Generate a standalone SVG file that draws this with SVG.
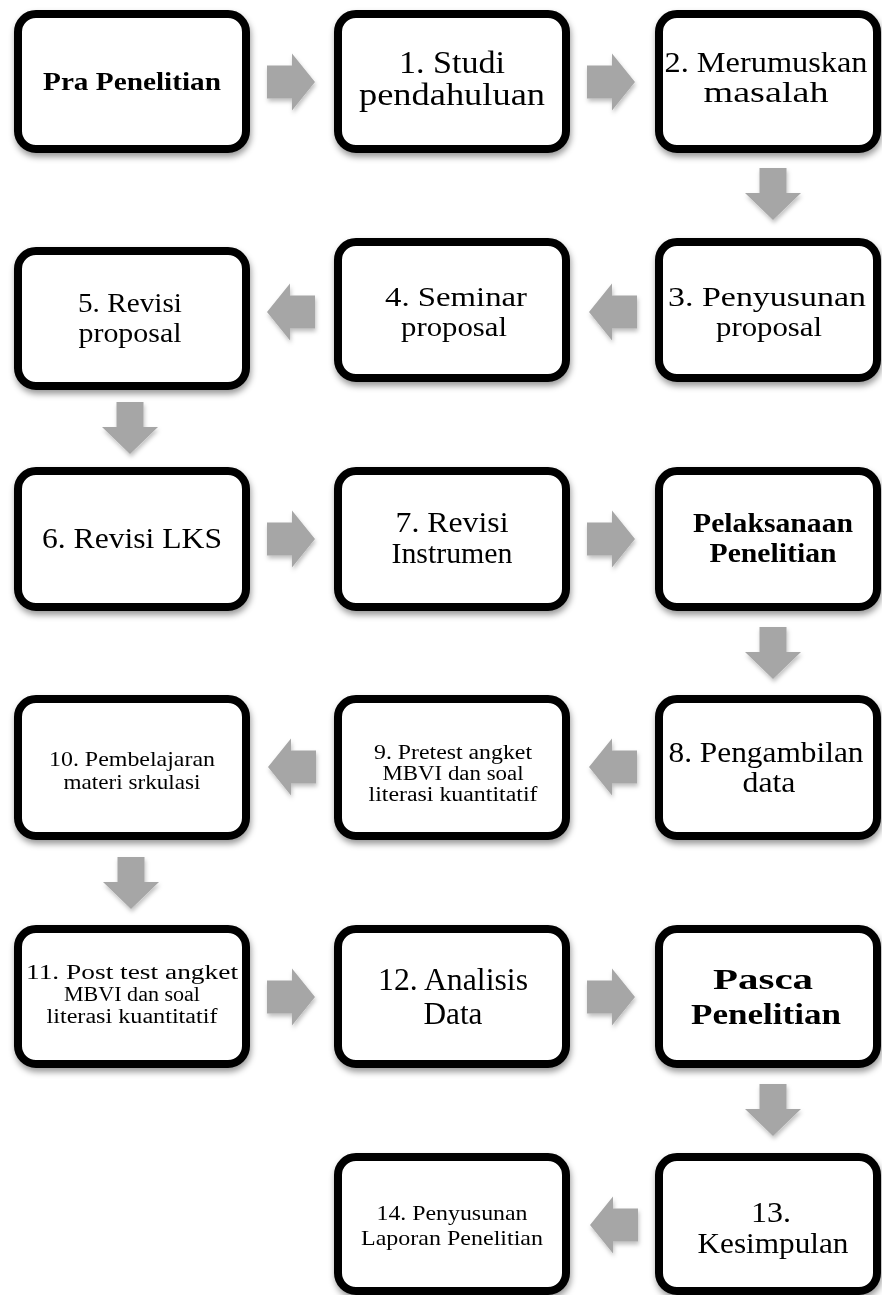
<svg xmlns="http://www.w3.org/2000/svg" xmlns:xlink="http://www.w3.org/1999/xlink" width="882" height="1295" viewBox="0 0 882 1295">
<style>
.box{fill:#fff;stroke:#000;stroke-width:8}
.t{font-family:"Liberation Serif","Times New Roman",serif;fill:#000;text-anchor:middle}
.b{font-weight:bold}
.arrow{fill:#a6a6a6}
</style>
<defs>
<filter id="sh" x="-10%" y="-10%" width="125%" height="130%">
<feDropShadow dx="1" dy="4" stdDeviation="3" flood-color="#000" flood-opacity="0.4"/>
</filter>
<filter id="ash" x="-20%" y="-20%" width="150%" height="150%">
<feDropShadow dx="1" dy="3" stdDeviation="2" flood-color="#000" flood-opacity="0.25"/>
</filter>
<path id="ar" d="M0,-16.5 H25 V-28.5 L48,0 L25,28.5 V16.5 H0 Z"/>
<path id="al" d="M0,-16.5 H-25 V-28.5 L-48,0 L-25,28.5 V16.5 H0 Z"/>
<path id="ad" d="M-13.5,0 H13.5 V25 H28 L0,52 L-28,25 H-13.5 Z"/>
</defs>
<rect width="882" height="1295" fill="#fff"/>

<g id="connectors" class="arrow" filter="url(#ash)">
<use xlink:href="#ar" href="#ar" x="267" y="82"/>
<use xlink:href="#ar" href="#ar" x="587" y="82"/>
<use xlink:href="#ad" href="#ad" x="773" y="168"/>
<use xlink:href="#al" href="#al" x="637" y="312"/>
<use xlink:href="#al" href="#al" x="315" y="312"/>
<use xlink:href="#ad" href="#ad" x="130" y="402"/>
<use xlink:href="#ar" href="#ar" x="267" y="539"/>
<use xlink:href="#ar" href="#ar" x="587" y="539"/>
<use xlink:href="#ad" href="#ad" x="773" y="627"/>
<use xlink:href="#al" href="#al" x="637" y="767"/>
<use xlink:href="#al" href="#al" x="316" y="767"/>
<use xlink:href="#ad" href="#ad" x="131" y="857"/>
<use xlink:href="#ar" href="#ar" x="267" y="997"/>
<use xlink:href="#ar" href="#ar" x="587" y="997"/>
<use xlink:href="#ad" href="#ad" x="773" y="1084"/>
<use xlink:href="#al" href="#al" x="638" y="1225"/>
</g>

<g id="n-pra">
<rect class="box" filter="url(#sh)" x="18" y="14" width="228" height="135" rx="18"/>
<text class="t b" x="132" y="90" font-size="26" textLength="178" lengthAdjust="spacingAndGlyphs">Pra Penelitian</text>
</g>
<g id="n-1">
<rect class="box" filter="url(#sh)" x="338" y="14" width="228" height="135" rx="18"/>
<text class="t" x="452" y="73" font-size="30.5" textLength="106" lengthAdjust="spacingAndGlyphs">1. Studi</text>
<text class="t" x="452" y="105" font-size="30.5" textLength="186" lengthAdjust="spacingAndGlyphs">pendahuluan</text>
</g>
<g id="n-2">
<rect class="box" filter="url(#sh)" x="659" y="14" width="218" height="135" rx="18"/>
<text class="t" x="766" y="72" font-size="29.5" textLength="203" lengthAdjust="spacingAndGlyphs">2. Merumuskan</text>
<text class="t" x="766" y="102" font-size="29.5" textLength="125" lengthAdjust="spacingAndGlyphs">masalah</text>
</g>

<g id="n-5">
<rect class="box" filter="url(#sh)" x="18" y="251" width="228" height="135" rx="18"/>
<text class="t" x="130" y="312" font-size="27.5" textLength="104" lengthAdjust="spacingAndGlyphs">5. Revisi</text>
<text class="t" x="130" y="342" font-size="27.5" textLength="103" lengthAdjust="spacingAndGlyphs">proposal</text>
</g>
<g id="n-4">
<rect class="box" filter="url(#sh)" x="338" y="242" width="228" height="136" rx="18"/>
<text class="t" x="456" y="306" font-size="28" textLength="142" lengthAdjust="spacingAndGlyphs">4. Seminar</text>
<text class="t" x="454" y="336" font-size="28" textLength="106" lengthAdjust="spacingAndGlyphs">proposal</text>
</g>
<g id="n-3">
<rect class="box" filter="url(#sh)" x="659" y="242" width="218" height="136" rx="18"/>
<text class="t" x="767" y="306" font-size="28" textLength="198" lengthAdjust="spacingAndGlyphs">3. Penyusunan</text>
<text class="t" x="769" y="336" font-size="28" textLength="106" lengthAdjust="spacingAndGlyphs">proposal</text>
</g>

<g id="n-6">
<rect class="box" filter="url(#sh)" x="18" y="471" width="228" height="136" rx="18"/>
<text class="t" x="132" y="548" font-size="30" textLength="180" lengthAdjust="spacingAndGlyphs">6. Revisi LKS</text>
</g>
<g id="n-7">
<rect class="box" filter="url(#sh)" x="338" y="471" width="228" height="136" rx="18"/>
<text class="t" x="452" y="532" font-size="29" textLength="113" lengthAdjust="spacingAndGlyphs">7. Revisi</text>
<text class="t" x="452" y="563" font-size="29" textLength="121" lengthAdjust="spacingAndGlyphs">Instrumen</text>
</g>
<g id="n-pelaksanaan">
<rect class="box" filter="url(#sh)" x="659" y="471" width="218" height="136" rx="18"/>
<text class="t b" x="773" y="532" font-size="26.5" textLength="160" lengthAdjust="spacingAndGlyphs">Pelaksanaan</text>
<text class="t b" x="773" y="562" font-size="26.5" textLength="127" lengthAdjust="spacingAndGlyphs">Penelitian</text>
</g>

<g id="n-10">
<rect class="box" filter="url(#sh)" x="18" y="699" width="228" height="137" rx="18"/>
<text class="t" x="132" y="766" font-size="21" textLength="166" lengthAdjust="spacingAndGlyphs">10. Pembelajaran</text>
<text class="t" x="132" y="789" font-size="21" textLength="137" lengthAdjust="spacingAndGlyphs">materi srkulasi</text>
</g>
<g id="n-9">
<rect class="box" filter="url(#sh)" x="338" y="699" width="228" height="137" rx="18"/>
<text class="t" x="453" y="759" font-size="20" textLength="158" lengthAdjust="spacingAndGlyphs">9. Pretest angket</text>
<text class="t" x="453" y="780" font-size="20" textLength="141" lengthAdjust="spacingAndGlyphs">MBVI dan soal</text>
<text class="t" x="453" y="801" font-size="20" textLength="169" lengthAdjust="spacingAndGlyphs">literasi kuantitatif</text>
</g>
<g id="n-8">
<rect class="box" filter="url(#sh)" x="659" y="699" width="218" height="137" rx="18"/>
<text class="t" x="766" y="762" font-size="29" textLength="195" lengthAdjust="spacingAndGlyphs">8. Pengambilan</text>
<text class="t" x="769" y="792" font-size="29" textLength="53" lengthAdjust="spacingAndGlyphs">data</text>
</g>

<g id="n-11">
<rect class="box" filter="url(#sh)" x="18" y="929" width="228" height="135" rx="18"/>
<text class="t" x="132" y="979" font-size="20" textLength="212" lengthAdjust="spacingAndGlyphs">11. Post test angket</text>
<text class="t" x="132" y="1001" font-size="20" textLength="136" lengthAdjust="spacingAndGlyphs">MBVI dan soal</text>
<text class="t" x="132" y="1023" font-size="20" textLength="171" lengthAdjust="spacingAndGlyphs">literasi kuantitatif</text>
</g>
<g id="n-12">
<rect class="box" filter="url(#sh)" x="338" y="929" width="228" height="135" rx="18"/>
<text class="t" x="453" y="990" font-size="31.5" textLength="150" lengthAdjust="spacingAndGlyphs">12. Analisis</text>
<text class="t" x="453" y="1024" font-size="31.5" textLength="59" lengthAdjust="spacingAndGlyphs">Data</text>
</g>
<g id="n-pasca">
<rect class="box" filter="url(#sh)" x="659" y="929" width="218" height="135" rx="18"/>
<text class="t b" x="763" y="989" font-size="29" textLength="100" lengthAdjust="spacingAndGlyphs">Pasca</text>
<text class="t b" x="766" y="1024" font-size="29" textLength="150" lengthAdjust="spacingAndGlyphs">Penelitian</text>
</g>

<g id="n-14">
<rect class="box" filter="url(#sh)" x="338" y="1157" width="228" height="134" rx="18"/>
<text class="t" x="452" y="1220" font-size="22" textLength="151" lengthAdjust="spacingAndGlyphs">14. Penyusunan</text>
<text class="t" x="452" y="1245" font-size="22" textLength="182" lengthAdjust="spacingAndGlyphs">Laporan Penelitian</text>
</g>
<g id="n-13">
<rect class="box" filter="url(#sh)" x="659" y="1157" width="218" height="134" rx="18"/>
<text class="t" x="771" y="1222" font-size="29.5" textLength="40" lengthAdjust="spacingAndGlyphs">13.</text>
<text class="t" x="773" y="1253" font-size="29.5" textLength="151" lengthAdjust="spacingAndGlyphs">Kesimpulan</text>
</g>
</svg>
